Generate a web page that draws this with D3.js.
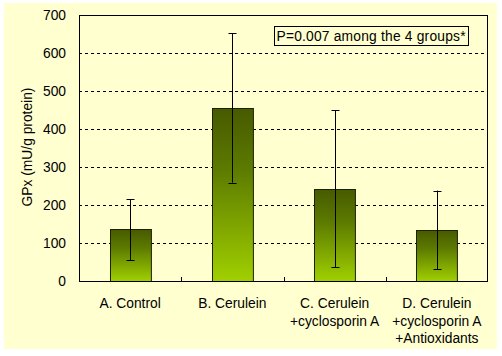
<!DOCTYPE html>
<html><head><meta charset="utf-8">
<script src="https://cdn.jsdelivr.net/npm/d3@7"></script>
<style>body{margin:0;background:#fff}svg{display:block}text{font-family:"Liberation Sans",Arial,sans-serif}</style>
</head><body>
<script>
const categories = [["A. Control"],["B. Cerulein"],["C. Cerulein","+cyclosporin A"],["D. Cerulein","+cyclosporin A","+Antioxidants"]];
const means = [136, 454, 241, 133];
const errLow = [54, 259, 36, 31];
const errHigh = [215, 652, 450, 238];
const yTicks = [0,100,200,300,400,500,600,700];
const yTitle = "GPx (mU/g protein)";
const note = "P=0.007 among the 4 groups*";

const W=502,H=356,FS=13.8;
const svg=d3.select("body").append("svg").attr("width",W).attr("height",H);
svg.append("rect").attr("x",4).attr("y",3).attr("width",493).attr("height",346).attr("fill","#ffffd0");
const L=79,R=488,T=15,B=281;
const x=d3.scaleBand().domain(d3.range(categories.length)).range([L,R]).padding(0);
const y=d3.scaleLinear().domain([0,700]).range([B,T]);
const defs=svg.append("defs");
const g=defs.append("linearGradient").attr("id","grad").attr("x1",0).attr("y1",0).attr("x2",0).attr("y2",1);
g.append("stop").attr("offset","0%").attr("stop-color","#475a00");
g.append("stop").attr("offset","35%").attr("stop-color","#5c7a00");
g.append("stop").attr("offset","100%").attr("stop-color","#a0d000");
// grid
svg.append("g").selectAll("line").data(yTicks.filter(d=>d>0&&d<700)).join("line")
 .attr("x1",L).attr("x2",R).attr("y1",d=>Math.round(y(d))+0.5).attr("y2",d=>Math.round(y(d))+0.5)
 .attr("stroke","#000").attr("stroke-dasharray","3,3");
// bars
const bw=x.bandwidth()*0.4;
svg.append("g").selectAll("rect").data(means).join("rect")
 .attr("x",(d,i)=>Math.round(x(i)+x.bandwidth()/2-bw/2)+0.5).attr("width",bw)
 .attr("y",d=>Math.round(y(d))+0.5).attr("height",d=>B-Math.round(y(d)))
 .attr("fill","url(#grad)").attr("stroke","#1a2200").attr("stroke-width",1);
// error bars
const eg=svg.append("g").attr("stroke","#000").attr("stroke-width",1);
means.forEach((m,i)=>{
 const cx=Math.round(x(i)+x.bandwidth()/2)+0.5;
 eg.append("line").attr("x1",cx).attr("x2",cx).attr("y1",y(errHigh[i])).attr("y2",y(errLow[i]));
 [errHigh[i],errLow[i]].forEach(v=>{
  const yy=Math.round(y(v))+0.5;
  eg.append("line").attr("x1",cx-4).attr("x2",cx+4).attr("y1",yy).attr("y2",yy);
 });
});
// frame
svg.append("rect").attr("x",L+0.5).attr("y",T+0.5).attr("width",R-L-1).attr("height",B-T).attr("fill","none").attr("stroke","#000");
// category ticks
svg.append("g").selectAll("line").data(d3.range(1,categories.length)).join("line")
 .attr("x1",i=>Math.round(x(i))+0.5).attr("x2",i=>Math.round(x(i))+0.5).attr("y1",B).attr("y2",B-4).attr("stroke","#000");
// y axis labels
const ya=d3.axisLeft(y).tickValues(yTicks).tickSize(0).tickPadding(13);
const yg=svg.append("g").attr("transform",`translate(${L},0)`).call(ya);
yg.select(".domain").remove();
yg.selectAll("text").attr("font-size",FS).attr("font-family","Liberation Sans, Arial, sans-serif").attr("fill","#000");
svg.append("text").attr("transform",`translate(32,147) rotate(-90)`).attr("text-anchor","middle")
 .attr("font-size",FS).text(yTitle);
// x labels
categories.forEach((lines,i)=>{
 const cx=x(i)+x.bandwidth()/2;
 lines.forEach((t,j)=>{
  svg.append("text").attr("x",cx).attr("y",308+j*17.5).attr("text-anchor","middle").attr("font-size",FS).text(t);
 });
});
// note box
svg.append("rect").attr("x",274.5).attr("y",26.5).attr("width",194).attr("height",19).attr("fill","none").attr("stroke","#000");
svg.append("text").attr("x",276.5).attr("y",40.5).attr("font-size",FS).attr("textLength",189).attr("lengthAdjust","spacing").text(note);
</script>
</body></html>
